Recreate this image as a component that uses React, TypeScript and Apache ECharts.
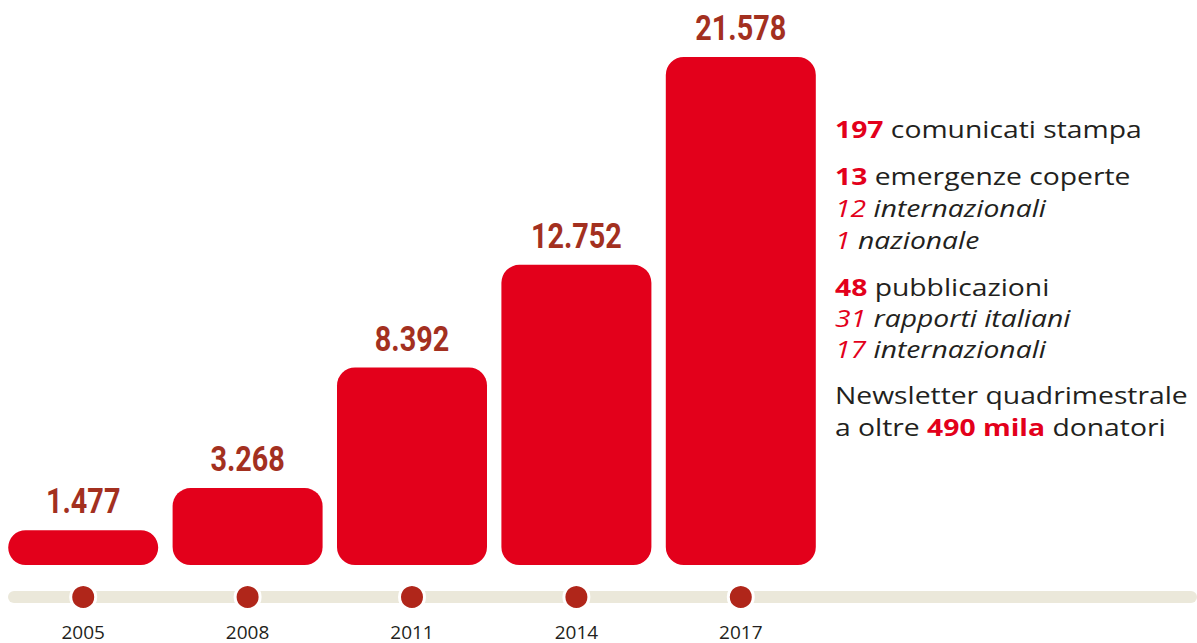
import React, { useEffect, useRef } from "react";
import * as echarts from "echarts";

const years = ["2005", "2008", "2011", "2014", "2017"];
const values = [1477, 3268, 8392, 12752, 21578];

// right-hand notes
const noteLines: { num: string; text: string; kind: string; y: number }[] = [
  { num: "197", text: " comunicati stampa", kind: "head", y: 129 },
  { num: "13", text: " emergenze coperte", kind: "head", y: 176 },
  { num: "12", text: " internazionali", kind: "sub", y: 208 },
  { num: "1", text: " nazionale", kind: "sub", y: 240 },
  { num: "48", text: " pubblicazioni", kind: "head", y: 287 },
  { num: "31", text: " rapporti italiani", kind: "sub", y: 318 },
  { num: "17", text: " internazionali", kind: "sub", y: 349 },
];
const newsletterLine1 = "Newsletter quadrimestrale";
const newsletterLine2 = ["a oltre ", "490 mila", " donatori"];

const RED = "#e3001b";
const DARK_RED = "#a3301f";
const DOT = "#b0261a";
const TEXT = "#231f20";
const FONT = "'Open Sans', sans-serif";
const NUM_FONT = "Roboto, 'Liberation Sans', sans-serif";

function fmt(v: number) {
  return String(v).replace(/\B(?=(\d{3})+(?!\d))/g, ".");
}

export default function App() {
  const ref = useRef<HTMLDivElement>(null);
  useEffect(() => {
    document.body.style.margin = "0";
    const chart = echarts.init(ref.current!, null, { renderer: "svg" });

    const fs = 23;
    const sx = 1.23;
    const graphics: any[] = [
      {
        type: "rect",
        z: 0,
        shape: { x: 8, y: 591, width: 1189, height: 12, r: 6 },
        style: { fill: "#ebe8da" },
      },
    ];
    noteLines.forEach((l) => {
      const head = l.kind === "head";
      graphics.push({
        type: "text",
        x: 835,
        y: l.y,
        scaleX: sx,
        style: {
          text: `{n|${l.num}}{t|${l.text}}`,
          verticalAlign: "middle",
          rich: {
            n: {
              fontFamily: FONT,
              fontSize: fs,
              fontWeight: head ? "bold" : "normal",
              fontStyle: head ? "normal" : "italic",
              fill: RED,
            },
            t: {
              fontFamily: FONT,
              fontSize: fs,
              fontStyle: head ? "normal" : "italic",
              fill: TEXT,
            },
          },
        },
      });
    });
    graphics.push({
      type: "text",
      x: 835,
      y: 395,
      scaleX: sx,
      style: {
        text: newsletterLine1,
        verticalAlign: "middle",
        fontFamily: FONT,
        fontSize: fs,
        fill: TEXT,
      },
    });
    graphics.push({
      type: "text",
      x: 835,
      y: 427,
      scaleX: sx,
      style: {
        text: `{t|${newsletterLine2[0]}}{n|${newsletterLine2[1]}}{t|${newsletterLine2[2]}}`,
        verticalAlign: "middle",
        rich: {
          n: { fontFamily: FONT, fontSize: fs, fontWeight: "bold", fill: RED },
          t: { fontFamily: FONT, fontSize: fs, fill: TEXT },
        },
      },
    });

    chart.setOption({
      animation: false,
      grid: [
        { left: 1, right: 374, top: 40, bottom: 78 },
        { left: 1, right: 374, top: 587, height: 20 },
      ],
      xAxis: [
        {
          type: "category",
          data: years,
          gridIndex: 0,
          axisLine: { show: false },
          axisTick: { show: false },
          axisLabel: { show: false },
        },
        {
          type: "category",
          data: years,
          gridIndex: 1,
          axisLine: { show: false },
          axisTick: { show: false },
          axisLabel: {
            margin: 15,
            fontFamily: "'Open Sans', sans-serif",
            fontSize: 19,
            color: TEXT,
          },
        },
      ],
      yAxis: [
        { type: "value", gridIndex: 0, min: 0, max: 22300, show: false },
        { type: "value", gridIndex: 1, min: 0, max: 1, show: false },
      ],
      series: [
        {
          type: "bar",
          xAxisIndex: 0,
          yAxisIndex: 0,
          data: values,
          barWidth: 150,
          itemStyle: { color: RED, borderRadius: 18 },
        },
        {
          type: "custom",
          xAxisIndex: 0,
          yAxisIndex: 0,
          data: values.map((v, i) => [i, v]),
          renderItem: (params: any, api: any) => {
            const pt = api.coord([api.value(0), api.value(1)]);
            return {
              type: "text",
              x: pt[0],
              y: pt[1] - 29,
              scaleX: 0.8,
              style: {
                text: fmt(api.value(1)),
                textAlign: "center",
                textVerticalAlign: "middle",
                fontFamily: NUM_FONT,
                fontWeight: "bold",
                fontSize: 36,
                fill: DARK_RED,
              },
            };
          },
          z: 4,
        },
        {
          type: "scatter",
          xAxisIndex: 1,
          yAxisIndex: 1,
          data: years.map((y) => [y, 0.5]),
          symbolSize: 25,
          itemStyle: { color: DOT, borderColor: "#ffffff", borderWidth: 3, opacity: 1 },
          z: 3,
        },
      ],
      graphic: graphics,
    });
    return () => chart.dispose();
  }, []);
  return <div ref={ref} style={{ width: 1197, height: 643 }} />;
}
